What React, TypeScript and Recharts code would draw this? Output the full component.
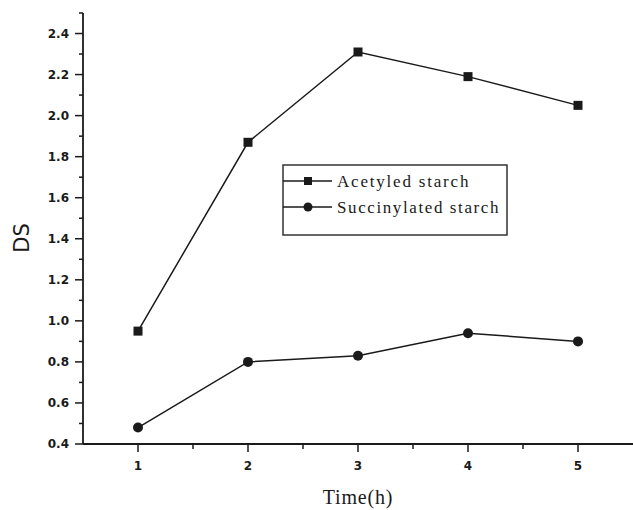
import { LineChart, Line, XAxis, YAxis } from "recharts";

const times = [1, 2, 3, 4, 5];
const acetyled = [0.95, 1.87, 2.31, 2.19, 2.05];
const succinylated = [0.48, 0.8, 0.83, 0.94, 0.9];

const xTicks = [1, 1.5, 2, 2.5, 3, 3.5, 4, 4.5, 5];
const yTicks = [
  0.4, 0.5, 0.6, 0.7, 0.8, 0.9, 1.0, 1.1, 1.2, 1.3, 1.4, 1.5, 1.6, 1.7, 1.8,
  1.9, 2.0, 2.1, 2.2, 2.3, 2.4, 2.5,
];

const seriesNames = ["Acetyled starch", "Succinylated starch"];

const data = times.map((t, i) => ({
  t,
  acetyled: acetyled[i],
  succinylated: succinylated[i],
}));

const INK = "#1a1a1a";
const tickFont = "'DejaVu Sans', sans-serif";
const serif = "'Liberation Serif', 'Times New Roman', serif";

const isMajor = (v: number) => Math.round(v * 10) % 2 === 0;

const YTick = (props: any) => {
  const { x, y, payload } = props;
  const v = payload.value;
  const major = isMajor(v);
  return (
    <g>
      <line x1={x - (major ? 8 : 4)} y1={y} x2={x} y2={y} stroke={INK} strokeWidth={1.5} />
      {major && v <= 2.4 && (
        <text
          x={x - 14}
          y={y}
          textAnchor="end"
          dominantBaseline="central"
          fontFamily={tickFont}
          fontWeight="bold"
          fontSize={12}
          fill={INK}>
          {v.toFixed(1)}
        </text>
      )}
    </g>
  );
};

const XTick = (props: any) => {
  const { x, y, payload } = props;
  const v = payload.value;
  const major = Number.isInteger(v);
  return (
    <g>
      <line x1={x} y1={y} x2={x} y2={y + (major ? 8 : 5)} stroke={INK} strokeWidth={1.5} />
      {major && (
        <text
          x={x}
          y={y + 22}
          textAnchor="middle"
          dominantBaseline="central"
          fontFamily={tickFont}
          fontWeight="bold"
          fontSize={12}
          fill={INK}>
          {v}
        </text>
      )}
    </g>
  );
};

const SquareDot = (props: any) => {
  const { cx, cy, index } = props;
  return <rect key={`sq-${index}`} x={cx - 4.5} y={cy - 4.5} width={9} height={9} fill={INK} />;
};

const RoundDot = (props: any) => {
  const { cx, cy, index } = props;
  return <circle key={`ci-${index}`} cx={cx} cy={cy} r={5} fill={INK} />;
};

// legend box drawn over the plot, same spot as the original figure
const ChartLegend = () => (
  <svg
    width={226}
    height={72}
    style={{ position: "absolute", left: 282, top: 164, display: "block" }}>
    <rect x={1} y={1} width={224} height={70} fill="#fff" stroke="#333" strokeWidth={1.5} />
    {seriesNames.map((name, i) => {
      const cy = 17 + i * 26;
      return (
        <g key={name}>
          <line x1={1} y1={cy} x2={50} y2={cy} stroke={INK} strokeWidth={1.5} />
          {i === 0 ? (
            <rect x={22} y={cy - 4} width={8} height={8} fill={INK} />
          ) : (
            <circle cx={26} cy={cy} r={4.5} fill={INK} />
          )}
          <text
            x={55}
            y={cy}
            dominantBaseline="central"
            fontFamily={serif}
            fontSize={17}
            letterSpacing={i === 0 ? 1.8 : 1.6}
            fill={INK}>
            {name}
          </text>
        </g>
      );
    })}
  </svg>
);

export default function App() {
  return (
    <div style={{ position: "absolute", left: 0, top: 0, width: 633, height: 510, background: "#fff" }}>
      <LineChart
        width={633}
        height={510}
        data={data}
        margin={{ top: 13, right: 0, bottom: 0, left: 0 }}>
        <XAxis
          dataKey="t"
          type="number"
          domain={[0.5, 5.5]}
          ticks={xTicks}
          interval={0}
          height={66}
          tickSize={0}
          tickMargin={0}
          tick={<XTick />}
          axisLine={{ stroke: INK, strokeWidth: 1.8 }}
          tickLine={false}
          label={{
            content: () => (
              <text
                x={358}
                y={497}
                textAnchor="middle"
                dominantBaseline="central"
                fontFamily={serif}
                fontSize={20}
                letterSpacing={0.8}
                fill={INK}>
                Time(h)
              </text>
            ),
          }}
        />
        <YAxis
          type="number"
          domain={[0.4, 2.5]}
          ticks={yTicks}
          interval={0}
          width={83}
          tickSize={0}
          tickMargin={0}
          tick={<YTick />}
          axisLine={{ stroke: INK, strokeWidth: 1.8 }}
          tickLine={false}
          allowDataOverflow
          label={{
            content: () => (
              <text
                x={22}
                y={238}
                transform="rotate(-90 22 238)"
                textAnchor="middle"
                dominantBaseline="central"
                fontFamily={tickFont}
                fontSize={21}
                fill={INK}>
                DS
              </text>
            ),
          }}
        />
        <Line
          dataKey="acetyled"
          name={seriesNames[0]}
          type="linear"
          stroke={INK}
          strokeWidth={1.5}
          dot={<SquareDot />}
          activeDot={false}
          isAnimationActive={false}
        />
        <Line
          dataKey="succinylated"
          name={seriesNames[1]}
          type="linear"
          stroke={INK}
          strokeWidth={1.5}
          dot={<RoundDot />}
          activeDot={false}
          isAnimationActive={false}
        />
      </LineChart>
      <ChartLegend />
    </div>
  );
}
